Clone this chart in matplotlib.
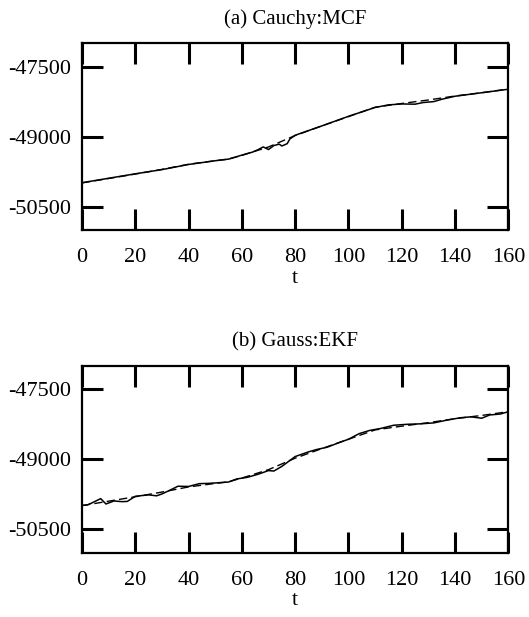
import numpy as np
import matplotlib
matplotlib.use("Agg")
import matplotlib.pyplot as plt

plt.rcParams['font.family'] = ['Liberation Serif', 'DejaVu Serif']
plt.rcParams['axes.unicode_minus'] = False

# true state (dashed)
t_true = [0, 10, 20, 30, 40, 50, 55, 60, 70, 80, 90, 100, 110, 120, 130, 140, 150, 160]
y_true = [-49990, -49895, -49800, -49700, -49590, -49515, -49480, -49400, -49220, -48975,
          -48770, -48570, -48370, -48290, -48215, -48130, -48060, -47980]

# (a) Cauchy:MCF estimate
t_mcf = [0, 10, 20, 30, 40, 50, 55, 60, 64, 66, 68, 70, 72, 74, 75, 77, 78, 80, 90, 100,
         110, 115, 120, 125, 128, 132, 135, 140, 150, 160]
y_mcf = [-49985, -49890, -49795, -49705, -49595, -49515, -49480, -49395, -49330, -49280,
         -49220, -49275, -49190, -49160, -49200, -49150, -49050, -48970, -48770, -48565,
         -48375, -48320, -48300, -48305, -48270, -48250, -48200, -48135, -48060, -47985]

# (b) Gauss:EKF estimate
t_ekf = [0, 2, 4, 7, 9, 12, 15, 17, 20, 25, 28, 30, 33, 36, 40, 44, 47, 50, 55, 58, 62, 66,
         70, 72, 75, 80, 85, 88, 92, 97, 100, 104, 108, 112, 117, 122, 127, 132, 137, 142,
         146, 150, 153, 157, 160]
y_ekf = [-49985, -49975, -49925, -49840, -49955, -49890, -49905, -49900, -49790, -49760,
         -49780, -49740, -49660, -49575, -49580, -49520, -49515, -49505, -49485, -49420,
         -49385, -49320, -49240, -49250, -49150, -48940, -48840, -48790, -48740, -48630,
         -48570, -48450, -48380, -48340, -48270, -48250, -48240, -48220, -48160, -48110,
         -48090, -48120, -48050, -48030, -47980]

panels = [("(a) Cauchy:MCF", t_mcf, y_mcf, 0.627),
          ("(b) Gauss:EKF", t_ekf, y_ekf, 0.104)]

fig = plt.figure(figsize=(5.29, 6.17), dpi=100)
for title, t_est, y_est, bottom in panels:
    ax = fig.add_axes([0.155, bottom, 0.806, 0.303])
    ax.plot(t_true, y_true, color='black', lw=1.0, ls=(0, (6, 3)))
    ax.plot(t_est, y_est, color='black', lw=1.1)
    ax.set_xlim(0, 160)
    ax.set_ylim(-51000, -47000)
    ax.set_xticks(range(0, 161, 20))
    ax.set_yticks([-47500, -49000, -50500])
    ax.tick_params(direction='in', length=15, width=2.2, top=True, right=True,
                   labelsize=16, pad=8)
    ax.tick_params(axis='x', pad=13)
    for s in ax.spines.values():
        s.set_linewidth(1.6)
    ax.set_title(title, fontsize=15, pad=14)
    ax.set_xlabel('t', fontsize=16, labelpad=1)

fig.savefig("out.png", dpi=100)
